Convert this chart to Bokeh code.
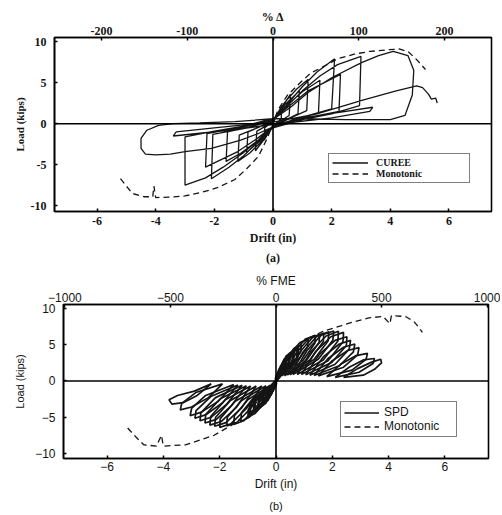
from bokeh.plotting import figure
from bokeh.models import Range1d, LinearAxis, Span, Legend, LegendItem, Title, FixedTicker
from bokeh.embed import file_html
from bokeh.resources import INLINE

# ---------------- data ----------------
drift_ticks = [-6, -4, -2, 0, 2, 4, 6]
load_ticks = [-10, -5, 0, 5, 10]
pct_delta_ticks = [-200, -100, 0, 100, 200]
pct_fme_ticks = [-1000, -500, 0, 500, 1000]

# (a) CUREE cyclic test, drift (in) vs load (kips)
curee_pts = [
    (0, 0), (0.15, 1.2), (0.3, 2.2), (0.28, 0.6), (0, -0.3), (-0.15, -1.1), (-0.3, -2.0), (-0.28, -0.5), (0, 0.3),
    (0.3, 2.0), (0.6, 3.6), (0.55, 1.0), (0.2, 0.2), (0, -0.4), (-0.3, -1.9), (-0.6, -3.3), (-0.55, -0.9), (-0.2, -0.2), (0, 0.4),
    (0.4, 2.6), (0.8, 4.2), (1.2, 5.4), (1.15, 1.6), (0.6, 0.7), (0, -0.4), (-0.4, -2.2), (-0.8, -3.6), (-1.2, -4.6),
    (-1.15, -1.4), (-0.6, -0.6), (0, 0.4),
    (0.4, 2.3), (0.9, 4.0), (0.85, 1.2), (0, -0.3), (-0.4, -2.0), (-0.9, -3.5), (-0.85, -1.0), (0, 0.3),
    (0.4, 2.0), (1.0, 4.5), (1.5, 6.3), (2.1, 7.9), (2.0, 1.8), (1.0, 0.8), (0, -0.4), (-0.4, -1.8), (-1.0, -3.9),
    (-1.5, -5.3), (-2.1, -6.7), (-2.05, -1.3), (-1.0, -0.6), (0, 0.5),
    (0.5, 2.3), (1.0, 3.9), (1.6, 5.3), (1.55, 1.3), (0.8, 0.6), (0, -0.3), (-0.5, -2.0), (-1.1, -3.6), (-1.6, -4.6),
    (-1.55, -1.0), (-0.8, -0.4), (0, 0.4),
    (0.5, 2.2), (1.0, 4.0), (1.6, 5.8), (2.2, 7.2), (3.0, 8.2), (2.95, 2.2), (2.0, 1.2), (1.0, 0.5), (0, -0.5),
    (-0.5, -2.0), (-1.0, -3.5), (-1.7, -5.3), (-2.3, -6.6), (-3.0, -7.5), (-3.0, -1.6), (-2.0, -0.9), (-1.0, -0.3), (0, 0.6),
    (0.5, 2.0), (1.2, 4.0), (2.3, 6.0), (2.25, 1.5), (1.0, 0.6), (0, -0.3), (-0.5, -1.7), (-1.2, -3.4), (-2.3, -5.3),
    (-2.25, -1.2), (-1.0, -0.4), (0, 0.5),
    (0.6, 2.0), (1.2, 3.8), (2.0, 5.6), (3.0, 7.4), (3.6, 8.3), (4.1, 8.8), (4.6, 8.3), (4.8, 6.5), (4.75, 3.5),
    (4.5, 1.0), (4.0, 0.5), (2.5, 0.5), (1.0, 0.6), (0, 0.6), (-1.3, 0.25), (-2.5, 0.1), (-3.4, 0.0), (-3.9, -0.2),
    (-4.3, -0.8), (-4.5, -1.8), (-4.5, -3.0), (-4.35, -3.7), (-4.0, -3.8), (-3.5, -3.7), (-3.0, -3.4), (-2.1, -3.0),
    (-1.1, -2.0), (-0.5, -1.2), (0, -0.4),
    (1.0, 0.7), (2.2, 1.35), (3.4, 2.0), (3.3, 1.5), (2.0, 0.7), (0, -0.1), (-1.5, -0.8), (-3.4, -1.5), (-3.3, -1.0),
    (-2.0, -0.5), (0, 0.2),
    (1.5, 1.2), (3.0, 2.8), (4.2, 4.0), (4.9, 4.6), (5.1, 4.4), (5.3, 3.6), (5.4, 3.0), (5.55, 3.1), (5.6, 2.5),
]

mono_a_pts = [
    (-5.2, -6.7), (-5.0, -7.6), (-4.8, -8.5), (-4.4, -8.9), (-4.1, -8.9), (-4.06, -7.6), (-4.0, -9.0), (-3.5, -8.95),
    (-3.0, -8.8), (-2.46, -8.4), (-1.9, -7.8), (-1.3, -6.8), (-0.9, -5.5), (-0.5, -4.0), (-0.2, -1.8), (0, 0),
    (0.17, 1.7), (0.5, 3.5), (0.96, 5.1), (1.3, 6.2), (1.64, 6.8), (2.2, 7.9), (2.8, 8.5), (3.3, 8.8), (3.9, 9.0),
    (4.3, 9.1), (4.6, 8.8), (4.9, 7.8), (5.2, 6.6),
]

# (b) SPD test: small-amplitude core cycles (drawn heavier, they merge into a dark core)
spd_core = [
    [(0, 0), (0.08, 0.9), (0.15, 1.3), (0.14, 0.7), (0, 0)],
    [(0, 0.1), (0.12, 1.5), (0.25, 2.1), (0.24, 1.2), (0, 0.1)],
    [(0, 0.2), (0.18, 2.0), (0.35, 2.8), (0.33, 1.6), (0, 0.2)],
    [(0, 0.2), (0.25, 2.4), (0.48, 3.3), (0.45, 2.0), (0, 0.2)],
    [(0, 0.3), (0.3, 2.9), (0.62, 4.0), (0.6, 2.5), (0, 0.3)],
    [(0, 0.4), (0.38, 3.4), (0.78, 4.6), (0.75, 3.0), (0, 0.4)],
    [(0, 0), (-0.08, -0.8), (-0.15, -1.2), (-0.14, -0.6), (0, 0)],
    [(0, -0.1), (-0.12, -1.3), (-0.25, -1.9), (-0.24, -1.0), (0, -0.1)],
    [(0, -0.2), (-0.18, -1.8), (-0.35, -2.5), (-0.33, -1.4), (0, -0.2)],
    [(0, -0.2), (-0.25, -2.2), (-0.48, -3.0), (-0.45, -1.8), (0, -0.2)],
    [(0, -0.3), (-0.3, -2.6), (-0.62, -3.6), (-0.6, -2.3), (0, -0.3)],
    [(0, -0.4), (-0.38, -3.0), (-0.78, -4.2), (-0.75, -2.7), (0, -0.4)],
    [(-0.1, -0.5), (-0.5, -3.2), (-0.95, -4.6), (-0.9, -3.0), (-0.1, -0.5)],
]

# (b) SPD test: main hysteresis lobes
spd_lobes = [
    # positive lobes
    [(0.0, 0.3), (0.2, 2.0), (0.45, 3.3), (0.6, 3.6), (0.58, 2.8), (0.35, 1.4), (0.0, 0.3)],
    [(0.05, 0.5), (0.3, 2.8), (0.65, 4.5), (0.9, 5.0), (0.88, 4.0), (0.55, 2.2), (0.05, 0.5)],
    [(0.1, 0.6), (0.45, 3.5), (0.85, 5.3), (1.15, 5.8), (1.12, 4.7), (0.75, 2.6), (0.1, 0.6)],
    [(0.2, 0.7), (0.6, 3.8), (1.05, 5.8), (1.4, 6.3), (1.38, 5.2), (0.95, 2.8), (0.2, 0.7)],
    [(0.3, 0.7), (0.72, 3.9), (1.18, 5.9), (1.55, 6.4), (1.53, 5.3), (1.08, 2.85), (0.3, 0.7)],
    [(0.4, 0.8), (0.85, 4.0), (1.3, 6.0), (1.7, 6.6), (1.68, 5.4), (1.2, 2.9), (0.4, 0.8)],
    [(0.5, 0.85), (0.98, 4.1), (1.45, 6.15), (1.88, 6.8), (1.85, 5.5), (1.35, 2.95), (0.5, 0.85)],
    [(0.6, 0.9), (1.1, 4.2), (1.6, 6.3), (2.05, 6.9), (2.02, 5.6), (1.5, 3.0), (0.6, 0.9)],
    [(0.75, 0.9), (1.25, 4.1), (1.78, 6.2), (2.22, 6.85), (2.2, 5.5), (1.68, 2.9), (0.75, 0.9)],
    [(0.9, 0.9), (1.4, 4.0), (1.95, 6.1), (2.4, 6.7), (2.38, 5.4), (1.85, 2.8), (0.9, 0.9)],
    [(1.05, 0.85), (1.55, 3.7), (2.1, 5.6), (2.52, 6.1), (2.5, 4.9), (1.98, 2.55), (1.05, 0.85)],
    [(1.2, 0.8), (1.7, 3.4), (2.25, 5.1), (2.65, 5.6), (2.6, 4.4), (2.1, 2.3), (1.2, 0.8)],
    [(1.35, 0.75), (1.85, 3.1), (2.4, 4.65), (2.8, 5.1), (2.75, 4.0), (2.25, 2.1), (1.35, 0.75)],
    [(1.5, 0.7), (2.0, 2.8), (2.55, 4.2), (2.95, 4.6), (2.9, 3.6), (2.4, 1.9), (1.5, 0.7)],
    [(1.8, 0.6), (2.3, 2.3), (2.85, 3.5), (3.25, 3.8), (3.2, 3.0), (2.7, 1.5), (1.8, 0.6)],
    [(2.1, 0.5), (2.6, 1.9), (3.1, 2.9), (3.5, 3.1), (3.45, 2.4), (2.95, 1.2), (2.1, 0.5)],
    [(2.4, 0.5), (2.9, 1.7), (3.4, 2.6), (3.72, 3.0), (3.75, 2.5), (3.5, 1.6), (3.1, 0.8), (2.4, 0.5)],
    # negative lobes
    [(0.0, -0.3), (-0.2, -1.8), (-0.45, -3.0), (-0.6, -3.3), (-0.58, -2.5), (-0.35, -1.2), (0.0, -0.3)],
    [(-0.05, -0.5), (-0.35, -2.8), (-0.75, -4.5), (-1.0, -5.0), (-0.98, -3.9), (-0.6, -2.1), (-0.05, -0.5)],
    [(-0.1, -0.55), (-0.52, -3.2), (-0.95, -5.0), (-1.25, -5.6), (-1.23, -4.4), (-0.8, -2.35), (-0.1, -0.55)],
    [(-0.2, -0.6), (-0.7, -3.6), (-1.15, -5.5), (-1.5, -6.0), (-1.48, -4.8), (-1.0, -2.6), (-0.2, -0.6)],
    [(-0.35, -0.65), (-0.88, -3.7), (-1.38, -5.7), (-1.75, -6.2), (-1.73, -5.0), (-1.22, -2.7), (-0.35, -0.65)],
    [(-0.5, -0.7), (-1.05, -3.8), (-1.6, -5.9), (-2.0, -6.4), (-1.98, -5.2), (-1.45, -2.8), (-0.5, -0.7)],
    [(-0.7, -0.7), (-1.22, -3.7), (-1.78, -5.75), (-2.18, -6.25), (-2.15, -5.05), (-1.62, -2.7), (-0.7, -0.7)],
    [(-0.9, -0.7), (-1.4, -3.6), (-1.95, -5.6), (-2.35, -6.1), (-2.32, -4.9), (-1.8, -2.6), (-0.9, -0.7)],
    [(-1.05, -0.65), (-1.58, -3.4), (-2.12, -5.3), (-2.52, -5.8), (-2.5, -4.65), (-1.98, -2.45), (-1.05, -0.65)],
    [(-1.2, -0.6), (-1.75, -3.2), (-2.3, -5.0), (-2.7, -5.5), (-2.67, -4.4), (-2.15, -2.3), (-1.2, -0.6)],
    [(-1.35, -0.55), (-1.9, -3.0), (-2.48, -4.65), (-2.88, -5.15), (-2.84, -4.1), (-2.32, -2.15), (-1.35, -0.55)],
    [(-1.5, -0.5), (-2.05, -2.8), (-2.65, -4.3), (-3.05, -4.8), (-3.0, -3.8), (-2.5, -2.0), (-1.5, -0.5)],
    [(-1.9, -0.4), (-2.4, -2.3), (-3.0, -3.6), (-3.4, -4.0), (-3.35, -3.1), (-2.85, -1.6), (-1.9, -0.4)],
    [(-2.3, -0.4), (-2.9, -1.4), (-3.5, -2.0), (-3.8, -2.6), (-3.7, -3.2), (-3.3, -3.0), (-2.8, -2.0), (-2.3, -0.4)],
]

mono_b_pts = [
    (-5.27, -6.5), (-4.96, -7.8), (-4.7, -8.8), (-4.25, -9.0), (-4.07, -7.5), (-4.0, -9.0), (-3.2, -8.8),
    (-2.2, -7.5), (-1.4, -5.7), (-1.0, -4.2), (-0.68, -2.9), (-0.3, -1.6), (0, 0), (0.2, 1.8), (0.5, 4.0),
    (0.8, 5.0), (1.2, 6.0), (1.7, 6.9), (2.3, 7.6), (2.8, 8.2), (3.3, 8.7), (3.8, 8.9), (4.05, 7.9), (4.1, 9.0),
    (4.6, 8.9), (4.9, 8.2), (5.05, 7.5), (5.2, 6.7),
]

INK = "#151515"


def style(p, font, tick_size, label_size, weight):
    p.xgrid.visible = False
    p.ygrid.visible = False
    p.outline_line_color = "black"
    p.outline_line_width = 1.6
    p.background_fill_color = "white"
    p.border_fill_color = "white"
    for ax in p.axis:
        ax.axis_line_width = 1.6
        ax.axis_line_color = "black"
        ax.major_tick_in = 3
        ax.major_tick_out = 0
        ax.minor_tick_line_color = None
        ax.major_tick_line_color = "black"
        ax.major_tick_line_width = 1.5
        ax.major_label_text_font = font
        ax.major_label_text_font_size = tick_size
        ax.major_label_text_font_style = weight
        ax.major_label_text_color = INK
        ax.axis_label_text_font = font
        ax.axis_label_text_font_size = label_size
        ax.axis_label_text_font_style = weight
        ax.axis_label_text_color = INK
    p.add_layout(Span(location=0, dimension="height", line_color="black", line_width=1.6))
    p.add_layout(Span(location=0, dimension="width", line_color="black", line_width=1.6))


def overrides(ticks, minus):
    return {t: (minus + str(abs(t)) if t < 0 else str(t)) for t in ticks}


# ---------------- figure (a) ----------------
pa = figure(width=500, height=266, x_range=Range1d(-7.45, 7.45), y_range=Range1d(-10.7, 10.5),
            output_backend="svg", toolbar_location=None,
            min_border_left=54, min_border_right=9, min_border_top=37, min_border_bottom=53)
pa.extra_x_ranges = {"pct": Range1d(-254.7, 254.7)}
top_a = LinearAxis(x_range_name="pct", axis_label="% Δ")
pa.add_layout(top_a, "above")

ra1 = pa.line([p[0] for p in curee_pts], [p[1] for p in curee_pts], line_color=INK, line_width=1.3)
ra2 = pa.line([p[0] for p in mono_a_pts], [p[1] for p in mono_a_pts], line_color=INK, line_width=1.3,
              line_dash="6 4")

style(pa, "Liberation Serif", "12px", "12px", "bold")
bottom_a = pa.below[0]
bottom_a.ticker = FixedTicker(ticks=drift_ticks)
bottom_a.major_label_overrides = overrides(drift_ticks, "-")
bottom_a.axis_label = "Drift (in)"
bottom_a.major_label_standoff = 5
bottom_a.axis_label_standoff = 3
top_a.ticker = FixedTicker(ticks=pct_delta_ticks)
top_a.major_label_overrides = overrides(pct_delta_ticks, "-")
top_a.major_label_standoff = 3
top_a.axis_label_standoff = 0
left_a = pa.left[0]
left_a.ticker = FixedTicker(ticks=load_ticks)
left_a.major_label_overrides = overrides(load_ticks, "-")
left_a.axis_label = "Load (kips)"
left_a.axis_label_text_font_size = "11px"
left_a.major_label_standoff = 8
left_a.axis_label_standoff = 2

leg_a = Legend(items=[LegendItem(label="CUREE", renderers=[ra1]),
                      LegendItem(label="Monotonic", renderers=[ra2])],
               location=(274, 28))
leg_a.border_line_color = "black"
leg_a.border_line_width = 1.2
leg_a.background_fill_alpha = 1
leg_a.padding = 3
leg_a.spacing = 0
leg_a.margin = 0
leg_a.glyph_width = 36
leg_a.glyph_height = 9
leg_a.label_height = 9
leg_a.label_width = 90
leg_a.label_standoff = 8
leg_a.label_text_font = "Liberation Serif"
leg_a.label_text_font_size = "10px"
leg_a.label_text_font_style = "bold"
leg_a.label_text_line_height = 1.0
leg_a.label_text_color = INK
pa.add_layout(leg_a)
pa.add_layout(Title(text="(a)", align="center", text_font="Liberation Serif", text_font_size="12px",
                    text_font_style="bold", text_color=INK, standoff=3), "below")

# ---------------- figure (b) ----------------
pb = figure(width=500, height=249, x_range=Range1d(-7.55, 7.55), y_range=Range1d(-10.7, 10.55),
            output_backend="svg", toolbar_location=None,
            min_border_left=63, min_border_right=12, min_border_top=38, min_border_bottom=57)
pb.extra_x_ranges = {"pct": Range1d(-1006.7, 1006.7)}
top_b = LinearAxis(x_range_name="pct", axis_label="% FME")
pb.add_layout(top_b, "above")

rb0 = pb.multi_line([[p[0] for p in lobe] for lobe in spd_core],
                    [[p[1] for p in lobe] for lobe in spd_core], line_color=INK, line_width=3.0)
rb1 = pb.multi_line([[p[0] for p in lobe] for lobe in spd_lobes],
                    [[p[1] for p in lobe] for lobe in spd_lobes], line_color=INK, line_width=1.7)
rb2 = pb.line([p[0] for p in mono_b_pts], [p[1] for p in mono_b_pts], line_color=INK, line_width=1.3,
              line_dash="6 4")

style(pb, "Liberation Sans", "12px", "12px", "normal")
bottom_b = pb.below[0]
bottom_b.ticker = FixedTicker(ticks=drift_ticks)
bottom_b.major_label_overrides = overrides(drift_ticks, "\u2212")
bottom_b.axis_label = "Drift (in)"
bottom_b.major_label_standoff = 3
bottom_b.axis_label_standoff = 3
top_b.ticker = FixedTicker(ticks=pct_fme_ticks)
top_b.major_label_overrides = overrides(pct_fme_ticks, "\u2212")
top_b.major_label_standoff = 3
top_b.axis_label_standoff = 2
left_b = pb.left[0]
left_b.ticker = FixedTicker(ticks=load_ticks)
left_b.major_label_overrides = overrides(load_ticks, "\u2212")
left_b.axis_label = "Load (kips)"
left_b.axis_label_text_font_size = "11px"
left_b.major_label_standoff = 8
left_b.axis_label_standoff = 6

leg_b = Legend(items=[LegendItem(label="SPD", renderers=[rb1]),
                      LegendItem(label="Monotonic", renderers=[rb2])],
               location=(277, 21))
leg_b.border_line_color = "black"
leg_b.border_line_width = 1.2
leg_b.background_fill_alpha = 1
leg_b.padding = 3
leg_b.spacing = 0
leg_b.margin = 0
leg_b.glyph_width = 35
leg_b.glyph_height = 11
leg_b.label_height = 11
leg_b.label_width = 69
leg_b.label_standoff = 5
leg_b.label_text_font = "Liberation Sans"
leg_b.label_text_font_size = "12px"
leg_b.label_text_color = INK
pb.add_layout(leg_b)
pb.add_layout(Title(text="(b)", align="center", text_font="Liberation Sans", text_font_size="11px",
                    text_font_style="normal", text_color=INK, standoff=8), "below")

open("out.html", "w").write(file_html([pa, pb], INLINE))
